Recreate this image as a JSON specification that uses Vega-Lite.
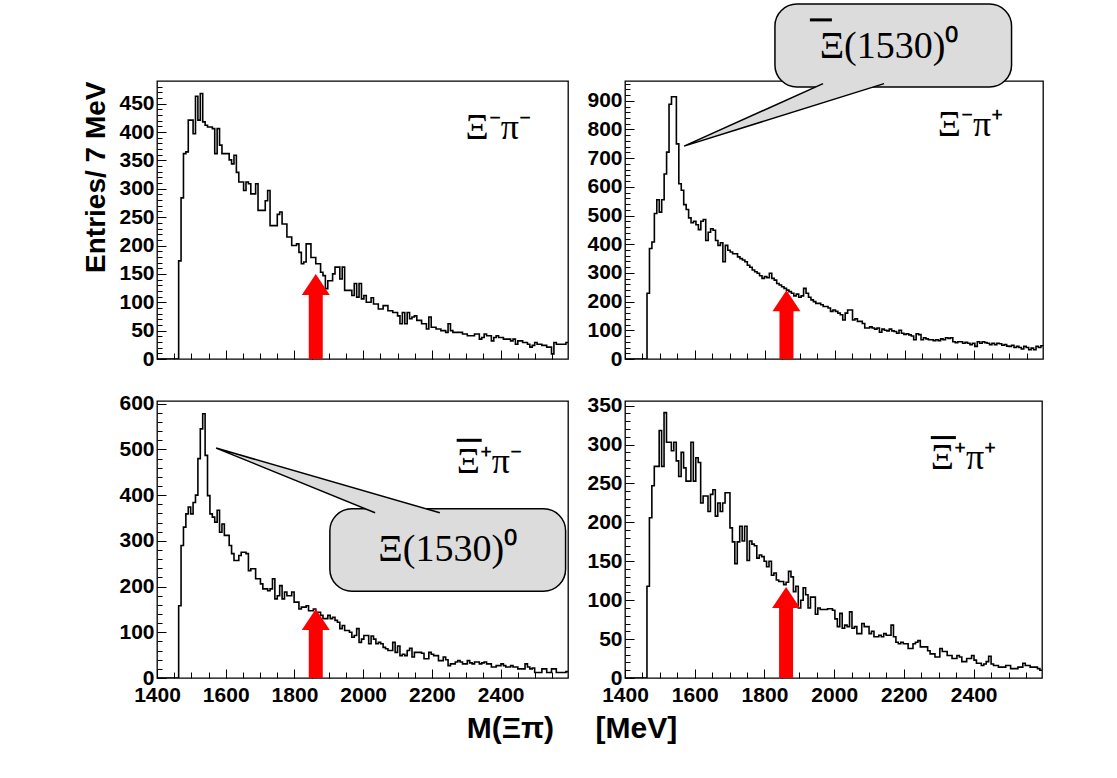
{
  "$schema": "https://vega.github.io/schema/vega-lite/v6.json",
  "background": "white",
  "padding": {"left": 82, "top": 2, "right": 10, "bottom": 10},
  "title": {
    "text": "M(Ξπ)\u00a0\u00a0\u00a0\u00a0\u00a0[MeV]",
    "orient": "bottom",
    "anchor": "middle",
    "font": "Liberation Sans",
    "fontSize": 30,
    "fontWeight": "bold",
    "color": "black",
    "offset": 8,
    "dx": 9
  },
  "datasets": {
    "hist": [
      {"m":1400,"mm":0,"mp":0,"pm":0,"pp":0},
      {"m":1463,"mm":173,"mp":229,"pm":158,"pp":118},
      {"m":1470,"mm":284,"mp":385,"pm":290,"pp":206},
      {"m":1477,"mm":362,"mp":408,"pm":330,"pp":247},
      {"m":1484,"mm":365,"mp":507,"pm":359,"pp":272},
      {"m":1491,"mm":421,"mp":555,"pm":374,"pp":272},
      {"m":1498,"mm":421,"mp":512,"pm":359,"pp":318},
      {"m":1505,"mm":397,"mp":555,"pm":384,"pp":272},
      {"m":1512,"mm":463,"mp":645,"pm":400,"pp":341},
      {"m":1519,"mm":421,"mp":721,"pm":480,"pp":303},
      {"m":1526,"mm":468,"mp":888,"pm":545,"pp":303},
      {"m":1533,"mm":418,"mp":914,"pm":578,"pp":292},
      {"m":1540,"mm":412,"mp":914,"pm":487,"pp":303},
      {"m":1547,"mm":409,"mp":750,"pm":399,"pp":279},
      {"m":1554,"mm":409,"mp":611,"pm":359,"pp":259},
      {"m":1561,"mm":406,"mp":588,"pm":352,"pp":290},
      {"m":1568,"mm":362,"mp":538,"pm":341,"pp":270},
      {"m":1575,"mm":406,"mp":521,"pm":367,"pp":253},
      {"m":1582,"mm":377,"mp":492,"pm":319,"pp":253},
      {"m":1589,"mm":362,"mp":475,"pm":337,"pp":303},
      {"m":1596,"mm":362,"mp":480,"pm":312,"pp":253},
      {"m":1603,"mm":362,"mp":468,"pm":312,"pp":283},
      {"m":1610,"mm":351,"mp":451,"pm":290,"pp":277},
      {"m":1617,"mm":344,"mp":480,"pm":272,"pp":225},
      {"m":1624,"mm":359,"mp":486,"pm":257,"pp":234},
      {"m":1631,"mm":329,"mp":413,"pm":257,"pp":234},
      {"m":1638,"mm":312,"mp":442,"pm":268,"pp":214},
      {"m":1645,"mm":312,"mp":454,"pm":275,"pp":236},
      {"m":1652,"mm":297,"mp":449,"pm":275,"pp":242},
      {"m":1659,"mm":312,"mp":413,"pm":272,"pp":208},
      {"m":1666,"mm":309,"mp":396,"pm":235,"pp":225},
      {"m":1673,"mm":291,"mp":405,"pm":239,"pp":214},
      {"m":1680,"mm":291,"mp":339,"pm":239,"pp":225},
      {"m":1687,"mm":309,"mp":396,"pm":217,"pp":238},
      {"m":1694,"mm":262,"mp":379,"pm":217,"pp":238},
      {"m":1701,"mm":262,"mp":373,"pm":206,"pp":193},
      {"m":1708,"mm":262,"mp":367,"pm":195,"pp":175},
      {"m":1715,"mm":279,"mp":367,"pm":195,"pp":147},
      {"m":1722,"mm":297,"mp":356,"pm":191,"pp":175},
      {"m":1729,"mm":235,"mp":350,"pm":195,"pp":195},
      {"m":1736,"mm":235,"mp":345,"pm":217,"pp":176},
      {"m":1743,"mm":235,"mp":339,"pm":173,"pp":195},
      {"m":1750,"mm":255,"mp":327,"pm":180,"pp":151},
      {"m":1757,"mm":259,"mp":320,"pm":202,"pp":176},
      {"m":1764,"mm":238,"mp":310,"pm":173,"pp":172},
      {"m":1771,"mm":238,"mp":304,"pm":188,"pp":170},
      {"m":1778,"mm":215,"mp":299,"pm":180,"pp":154},
      {"m":1785,"mm":215,"mp":290,"pm":180,"pp":158},
      {"m":1792,"mm":200,"mp":281,"pm":188,"pp":156},
      {"m":1799,"mm":200,"mp":287,"pm":166,"pp":150},
      {"m":1806,"mm":203,"mp":283,"pm":166,"pp":143},
      {"m":1813,"mm":188,"mp":299,"pm":151,"pp":150},
      {"m":1820,"mm":168,"mp":281,"pm":155,"pp":132},
      {"m":1827,"mm":171,"mp":275,"pm":155,"pp":135},
      {"m":1834,"mm":203,"mp":263,"pm":158,"pp":126},
      {"m":1841,"mm":203,"mp":258,"pm":147,"pp":124},
      {"m":1848,"mm":179,"mp":252,"pm":147,"pp":124},
      {"m":1855,"mm":179,"mp":246,"pm":151,"pp":120},
      {"m":1862,"mm":168,"mp":240,"pm":144,"pp":123},
      {"m":1869,"mm":168,"mp":235,"pm":144,"pp":137},
      {"m":1876,"mm":153,"mp":229,"pm":137,"pp":130},
      {"m":1883,"mm":147,"mp":220,"pm":130,"pp":111},
      {"m":1890,"mm":124,"mp":226,"pm":130,"pp":118},
      {"m":1897,"mm":138,"mp":215,"pm":137,"pp":90},
      {"m":1904,"mm":138,"mp":220,"pm":130,"pp":100},
      {"m":1911,"mm":150,"mp":246,"pm":133,"pp":116},
      {"m":1918,"mm":162,"mp":229,"pm":126,"pp":107},
      {"m":1925,"mm":162,"mp":215,"pm":122,"pp":90},
      {"m":1932,"mm":141,"mp":206,"pm":108,"pp":104},
      {"m":1939,"mm":162,"mp":200,"pm":115,"pp":104},
      {"m":1946,"mm":121,"mp":194,"pm":104,"pp":82},
      {"m":1953,"mm":121,"mp":194,"pm":104,"pp":90},
      {"m":1960,"mm":121,"mp":189,"pm":100,"pp":88},
      {"m":1967,"mm":112,"mp":183,"pm":89,"pp":88},
      {"m":1974,"mm":133,"mp":183,"pm":93,"pp":88},
      {"m":1981,"mm":109,"mp":178,"pm":108,"pp":89},
      {"m":1988,"mm":133,"mp":166,"pm":78,"pp":89},
      {"m":1995,"mm":106,"mp":171,"pm":85,"pp":87},
      {"m":2002,"mm":112,"mp":166,"pm":93,"pp":76},
      {"m":2009,"mm":100,"mp":160,"pm":93,"pp":66},
      {"m":2016,"mm":100,"mp":154,"pm":75,"pp":83},
      {"m":2023,"mm":108,"mp":136,"pm":92,"pp":64},
      {"m":2030,"mm":97,"mp":160,"pm":85,"pp":68},
      {"m":2037,"mm":97,"mp":171,"pm":75,"pp":66},
      {"m":2044,"mm":88,"mp":171,"pm":78,"pp":85},
      {"m":2051,"mm":88,"mp":136,"pm":75,"pp":64},
      {"m":2058,"mm":94,"mp":140,"pm":67,"pp":66},
      {"m":2065,"mm":94,"mp":131,"pm":64,"pp":57},
      {"m":2072,"mm":85,"mp":131,"pm":60,"pp":57},
      {"m":2079,"mm":85,"mp":124,"pm":60,"pp":70},
      {"m":2086,"mm":82,"mp":108,"pm":78,"pp":66},
      {"m":2093,"mm":82,"mp":108,"pm":56,"pp":66},
      {"m":2100,"mm":76,"mp":112,"pm":70,"pp":57},
      {"m":2107,"mm":62,"mp":108,"pm":49,"pp":60},
      {"m":2114,"mm":82,"mp":104,"pm":52,"pp":53},
      {"m":2121,"mm":62,"mp":108,"pm":49,"pp":53},
      {"m":2128,"mm":82,"mp":93,"pm":60,"pp":55},
      {"m":2135,"mm":71,"mp":104,"pm":65,"pp":53},
      {"m":2142,"mm":74,"mp":100,"pm":46,"pp":57},
      {"m":2149,"mm":76,"mp":98,"pm":56,"pp":55},
      {"m":2156,"mm":68,"mp":104,"pm":56,"pp":55},
      {"m":2163,"mm":68,"mp":98,"pm":56,"pp":68},
      {"m":2170,"mm":62,"mp":96,"pm":54,"pp":53},
      {"m":2177,"mm":62,"mp":90,"pm":42,"pp":46},
      {"m":2184,"mm":53,"mp":100,"pm":42,"pp":44},
      {"m":2191,"mm":74,"mp":90,"pm":56,"pp":46},
      {"m":2198,"mm":56,"mp":86,"pm":52,"pp":44},
      {"m":2205,"mm":56,"mp":88,"pm":49,"pp":44},
      {"m":2212,"mm":53,"mp":84,"pm":49,"pp":38},
      {"m":2219,"mm":53,"mp":80,"pm":38,"pp":38},
      {"m":2226,"mm":50,"mp":67,"pm":38,"pp":44},
      {"m":2233,"mm":50,"mp":88,"pm":46,"pp":46},
      {"m":2240,"mm":47,"mp":85,"pm":40,"pp":48},
      {"m":2247,"mm":62,"mp":67,"pm":27,"pp":40},
      {"m":2254,"mm":50,"mp":74,"pm":31,"pp":40},
      {"m":2261,"mm":47,"mp":70,"pm":31,"pp":40},
      {"m":2268,"mm":47,"mp":67,"pm":35,"pp":35},
      {"m":2275,"mm":47,"mp":67,"pm":38,"pp":31},
      {"m":2282,"mm":47,"mp":64,"pm":35,"pp":31},
      {"m":2289,"mm":44,"mp":67,"pm":31,"pp":27},
      {"m":2296,"mm":44,"mp":64,"pm":31,"pp":27},
      {"m":2303,"mm":41,"mp":70,"pm":38,"pp":38},
      {"m":2310,"mm":41,"mp":67,"pm":33,"pp":34},
      {"m":2317,"mm":41,"mp":74,"pm":31,"pp":34},
      {"m":2324,"mm":44,"mp":72,"pm":35,"pp":29},
      {"m":2331,"mm":44,"mp":74,"pm":35,"pp":29},
      {"m":2338,"mm":35,"mp":60,"pm":31,"pp":25},
      {"m":2345,"mm":38,"mp":57,"pm":33,"pp":25},
      {"m":2352,"mm":44,"mp":60,"pm":35,"pp":29},
      {"m":2359,"mm":41,"mp":60,"pm":31,"pp":27},
      {"m":2366,"mm":41,"mp":55,"pm":31,"pp":21},
      {"m":2373,"mm":32,"mp":58,"pm":24,"pp":21},
      {"m":2380,"mm":38,"mp":55,"pm":24,"pp":25},
      {"m":2387,"mm":41,"mp":50,"pm":27,"pp":25},
      {"m":2394,"mm":38,"mp":55,"pm":27,"pp":29},
      {"m":2401,"mm":38,"mp":44,"pm":31,"pp":23},
      {"m":2408,"mm":35,"mp":60,"pm":27,"pp":19},
      {"m":2415,"mm":35,"mp":55,"pm":24,"pp":19},
      {"m":2422,"mm":35,"mp":60,"pm":24,"pp":16},
      {"m":2429,"mm":32,"mp":57,"pm":27,"pp":18},
      {"m":2436,"mm":35,"mp":55,"pm":24,"pp":21},
      {"m":2443,"mm":26,"mp":50,"pm":24,"pp":28},
      {"m":2450,"mm":32,"mp":55,"pm":20,"pp":18},
      {"m":2457,"mm":32,"mp":50,"pm":20,"pp":16},
      {"m":2464,"mm":29,"mp":55,"pm":20,"pp":16},
      {"m":2471,"mm":29,"mp":53,"pm":31,"pp":14},
      {"m":2478,"mm":26,"mp":48,"pm":24,"pp":14},
      {"m":2485,"mm":21,"mp":50,"pm":20,"pp":14},
      {"m":2492,"mm":24,"mp":45,"pm":22,"pp":16},
      {"m":2499,"mm":29,"mp":44,"pm":12,"pp":16},
      {"m":2506,"mm":26,"mp":48,"pm":12,"pp":12},
      {"m":2513,"mm":26,"mp":40,"pm":12,"pp":12},
      {"m":2520,"mm":24,"mp":44,"pm":20,"pp":12},
      {"m":2527,"mm":24,"mp":40,"pm":20,"pp":14},
      {"m":2534,"mm":21,"mp":35,"pm":12,"pp":14},
      {"m":2541,"mm":21,"mp":44,"pm":12,"pp":19},
      {"m":2548,"mm":9,"mp":40,"pm":20,"pp":16},
      {"m":2555,"mm":29,"mp":32,"pm":20,"pp":16},
      {"m":2562,"mm":26,"mp":38,"pm":12,"pp":14},
      {"m":2569,"mm":26,"mp":32,"pm":12,"pp":14},
      {"m":2576,"mm":26,"mp":44,"pm":12,"pp":14},
      {"m":2583,"mm":26,"mp":40,"pm":12,"pp":12},
      {"m":2590,"mm":29,"mp":46,"pm":14,"pp":10},
      {"m":2597,"mm":29,"mp":46,"pm":14,"pp":10}
    ]
  },
  "columns": 2,
  "spacing": {"row": 42, "column": 57},
  "bounds": "flush",
  "concat": [
    {
      "width": 411,
      "height": 278,
      "layer": [
        {
          "data": {"name": "hist"},
          "mark": {"type": "line", "interpolate": "step-after", "color": "black", "strokeWidth": 1.6, "clip": true},
          "encoding": {
            "x": {"field": "m", "type": "quantitative", "scale": {"domain": [1400, 2596], "nice": false, "zero": false}, "axis": null},
            "y": {"field": "mm", "type": "quantitative", "scale": {"domain": [0, 490], "nice": false},
              "axis": {"orient": "left", "values": [0,50,100,150,200,250,300,350,400,450], "ticks": false, "domain": false, "grid": false, "labelPadding": 3,
                "title": "Entries/ 7 MeV", "titleFont": "Liberation Sans", "titleFontWeight": "bold", "titleFontSize": 28, "titleColor": "black", "titleAnchor": "end", "titlePadding": 8}}
          }
        },
        {
          "data": {"values": [{}]},
          "mark": {"type": "rule", "color": "#ff0000", "strokeWidth": 14, "strokeCap": "butt"},
          "encoding": {
            "x": {"datum": 1862, "type": "quantitative", "axis": {"orient": "bottom", "values": [1400,1600,1800,2000,2200,2400], "labels": false, "domain": false, "grid": false, "tickSize": -9, "title": null}},
            "y": {"datum": 0, "type": "quantitative", "axis": {"orient": "left", "values": [0,50,100,150,200,250,300,350,400,450], "labels": false, "domain": false, "grid": false, "tickSize": -9, "title": null}},
            "y2": {"datum": 124}
          }
        },
        {
          "data": {"values": [{}]},
          "mark": {"type": "point", "shape": "M0,0L1,1.5L-1,1.5Z", "size": 784, "filled": true, "color": "#ff0000", "opacity": 1},
          "encoding": {
            "x": {"datum": 1862, "type": "quantitative", "axis": {"orient": "bottom", "values": [1400,1450,1500,1550,1600,1650,1700,1750,1800,1850,1900,1950,2000,2050,2100,2150,2200,2250,2300,2350,2400,2450,2500,2550], "labels": false, "domain": false, "grid": false, "tickSize": -6, "title": null}},
            "y": {"datum": 150, "type": "quantitative", "axis": {"orient": "left", "values": [0,10,20,30,40,50,60,70,80,90,100,110,120,130,140,150,160,170,180,190,200,210,220,230,240,250,260,270,280,290,300,310,320,330,340,350,360,370,380,390,400,410,420,430,440,450,460,470,480], "labels": false, "domain": false, "grid": false, "tickSize": -5, "title": null}}
          }
        },
        {
          "data": {"values": [{}]},
          "mark": {"type": "text", "font": "Liberation Serif", "fontSize": 36, "align": "left", "baseline": "alphabetic", "color": "black"},
          "encoding": {
            "x": {"datum": 2298, "type": "quantitative", "axis": null},
            "y": {"datum": 388, "type": "quantitative", "axis": null},
            "text": {"value": "Ξ⁻π⁻"}
          }
        }
      ],
      "resolve": {"axis": {"x": "independent", "y": "independent"}}
    },
    {
      "width": 418,
      "height": 278,
      "layer": [
        {
          "data": {"name": "hist"},
          "mark": {"type": "line", "interpolate": "step-after", "color": "black", "strokeWidth": 1.6, "clip": true},
          "encoding": {
            "x": {"field": "m", "type": "quantitative", "scale": {"domain": [1400, 2596], "nice": false, "zero": false}, "axis": null},
            "y": {"field": "mp", "type": "quantitative", "scale": {"domain": [0, 969], "nice": false},
              "axis": {"orient": "left", "values": [0,100,200,300,400,500,600,700,800,900], "ticks": false, "domain": false, "grid": false, "labelPadding": 3, "title": null}}
          }
        },
        {
          "data": {"values": [{}]},
          "mark": {"type": "rule", "color": "#ff0000", "strokeWidth": 14, "strokeCap": "butt"},
          "encoding": {
            "x": {"datum": 1862, "type": "quantitative", "axis": {"orient": "bottom", "values": [1400,1600,1800,2000,2200,2400], "labels": false, "domain": false, "grid": false, "tickSize": -9, "title": null}},
            "y": {"datum": 0, "type": "quantitative", "axis": {"orient": "left", "values": [0,100,200,300,400,500,600,700,800,900], "labels": false, "domain": false, "grid": false, "tickSize": -9, "title": null}},
            "y2": {"datum": 188}
          }
        },
        {
          "data": {"values": [{}]},
          "mark": {"type": "point", "shape": "M0,0L1,1.5L-1,1.5Z", "size": 784, "filled": true, "color": "#ff0000", "opacity": 1},
          "encoding": {
            "x": {"datum": 1862, "type": "quantitative", "axis": {"orient": "bottom", "values": [1400,1450,1500,1550,1600,1650,1700,1750,1800,1850,1900,1950,2000,2050,2100,2150,2200,2250,2300,2350,2400,2450,2500,2550], "labels": false, "domain": false, "grid": false, "tickSize": -6, "title": null}},
            "y": {"datum": 240, "type": "quantitative", "axis": {"orient": "left", "values": [0,20,40,60,80,100,120,140,160,180,200,220,240,260,280,300,320,340,360,380,400,420,440,460,480,500,520,540,560,580,600,620,640,660,680,700,720,740,760,780,800,820,840,860,880,900,920,940,960], "labels": false, "domain": false, "grid": false, "tickSize": -5, "title": null}}
          }
        },
        {
          "data": {"values": [{}]},
          "mark": {"type": "text", "font": "Liberation Serif", "fontSize": 36, "align": "left", "baseline": "alphabetic", "color": "black"},
          "encoding": {
            "x": {"datum": 2295, "type": "quantitative", "axis": null},
            "y": {"datum": 778, "type": "quantitative", "axis": null},
            "text": {"value": "Ξ⁻π⁺"}
          }
        },
        {
          "data": {"values": [{}]},
          "mark": {"type": "rect", "fill": "#dcdcdc", "stroke": "black", "strokeWidth": 1.5, "cornerRadius": 22},
          "encoding": {
            "x": {"datum": 1829, "type": "quantitative", "axis": null},
            "x2": {"datum": 2506},
            "y": {"datum": 948, "type": "quantitative", "axis": null},
            "y2": {"datum": 1237}
          }
        },
        {
          "data": {"values": [{}]},
          "mark": {"type": "point", "shape": "M13.9,-6.25L0,0L20,-6.25", "size": 400, "filled": true, "fill": "#dcdcdc", "stroke": "black", "strokeWidth": 1.5, "opacity": 1, "strokeJoin": "miter"},
          "encoding": {
            "x": {"datum": 1569, "type": "quantitative", "axis": null},
            "y": {"datum": 742, "type": "quantitative", "axis": null}
          }
        },
        {
          "data": {"values": [{}]},
          "mark": {"type": "text", "font": "Liberation Serif", "fontSize": 38, "align": "left", "baseline": "middle", "color": "black"},
          "encoding": {
            "x": {"datum": 1957, "type": "quantitative", "axis": null},
            "y": {"datum": 1088, "type": "quantitative", "axis": null},
            "text": {"value": "Ξ(1530)⁰"}
          }
        },
        {
          "data": {"values": [{}]},
          "mark": {"type": "rule", "color": "black", "strokeWidth": 3, "strokeCap": "butt"},
          "encoding": {
            "x": {"datum": 1929, "type": "quantitative", "axis": null},
            "x2": {"datum": 1992},
            "y": {"datum": 1182, "type": "quantitative", "axis": null}
          }
        }
      ],
      "resolve": {"axis": {"x": "independent", "y": "independent"}}
    },
    {
      "width": 411,
      "height": 277,
      "layer": [
        {
          "data": {"name": "hist"},
          "mark": {"type": "line", "interpolate": "step-after", "color": "black", "strokeWidth": 1.6, "clip": true},
          "encoding": {
            "x": {"field": "m", "type": "quantitative", "scale": {"domain": [1400, 2596], "nice": false, "zero": false},
              "axis": {"orient": "bottom", "values": [1400,1600,1800,2000,2200,2400], "format": "d", "ticks": false, "domain": false, "grid": false, "labelPadding": 6, "title": null}},
            "y": {"field": "pm", "type": "quantitative", "scale": {"domain": [0, 606], "nice": false},
              "axis": {"orient": "left", "values": [0,100,200,300,400,500,600], "ticks": false, "domain": false, "grid": false, "labelPadding": 3, "title": null}}
          }
        },
        {
          "data": {"values": [{}]},
          "mark": {"type": "rule", "color": "#ff0000", "strokeWidth": 14, "strokeCap": "butt"},
          "encoding": {
            "x": {"datum": 1862, "type": "quantitative", "axis": {"orient": "bottom", "values": [1400,1600,1800,2000,2200,2400], "labels": false, "domain": false, "grid": false, "tickSize": -9, "title": null}},
            "y": {"datum": 0, "type": "quantitative", "axis": {"orient": "left", "values": [0,100,200,300,400,500,600], "labels": false, "domain": false, "grid": false, "tickSize": -9, "title": null}},
            "y2": {"datum": 118}
          }
        },
        {
          "data": {"values": [{}]},
          "mark": {"type": "point", "shape": "M0,0L1,1.5L-1,1.5Z", "size": 784, "filled": true, "color": "#ff0000", "opacity": 1},
          "encoding": {
            "x": {"datum": 1862, "type": "quantitative", "axis": {"orient": "bottom", "values": [1400,1450,1500,1550,1600,1650,1700,1750,1800,1850,1900,1950,2000,2050,2100,2150,2200,2250,2300,2350,2400,2450,2500,2550], "labels": false, "domain": false, "grid": false, "tickSize": -6, "title": null}},
            "y": {"datum": 151, "type": "quantitative", "axis": {"orient": "left", "values": [0,20,40,60,80,100,120,140,160,180,200,220,240,260,280,300,320,340,360,380,400,420,440,460,480,500,520,540,560,580,600], "labels": false, "domain": false, "grid": false, "tickSize": -5, "title": null}}
          }
        },
        {
          "data": {"values": [{}]},
          "mark": {"type": "text", "font": "Liberation Serif", "fontSize": 36, "align": "left", "baseline": "alphabetic", "color": "black"},
          "encoding": {
            "x": {"datum": 2272, "type": "quantitative", "axis": null},
            "y": {"datum": 449, "type": "quantitative", "axis": null},
            "text": {"value": "Ξ⁺π⁻"}
          }
        },
        {
          "data": {"values": [{}]},
          "mark": {"type": "rule", "color": "black", "strokeWidth": 3, "strokeCap": "butt"},
          "encoding": {
            "x": {"datum": 2272, "type": "quantitative", "axis": null},
            "x2": {"datum": 2345},
            "y": {"datum": 520, "type": "quantitative", "axis": null}
          }
        },
        {
          "data": {"values": [{}]},
          "mark": {"type": "rect", "fill": "#dcdcdc", "stroke": "black", "strokeWidth": 1.5, "cornerRadius": 22},
          "encoding": {
            "x": {"datum": 1903, "type": "quantitative", "axis": null},
            "x2": {"datum": 2589},
            "y": {"datum": 190, "type": "quantitative", "axis": null},
            "y2": {"datum": 370}
          }
        },
        {
          "data": {"values": [{}]},
          "mark": {"type": "point", "shape": "M15.9,6.47L0,0L22.37,6.47", "size": 400, "filled": true, "fill": "#dcdcdc", "stroke": "black", "strokeWidth": 1.5, "opacity": 1, "strokeJoin": "miter"},
          "encoding": {
            "x": {"datum": 1572, "type": "quantitative", "axis": null},
            "y": {"datum": 503, "type": "quantitative", "axis": null}
          }
        },
        {
          "data": {"values": [{}]},
          "mark": {"type": "text", "font": "Liberation Serif", "fontSize": 38, "align": "center", "baseline": "middle", "color": "black"},
          "encoding": {
            "x": {"datum": 2246, "type": "quantitative", "axis": null},
            "y": {"datum": 280, "type": "quantitative", "axis": null},
            "text": {"value": "Ξ(1530)⁰"}
          }
        }
      ],
      "resolve": {"axis": {"x": "independent", "y": "independent"}}
    },
    {
      "width": 417,
      "height": 277,
      "layer": [
        {
          "data": {"name": "hist"},
          "mark": {"type": "line", "interpolate": "step-after", "color": "black", "strokeWidth": 1.6, "clip": true},
          "encoding": {
            "x": {"field": "m", "type": "quantitative", "scale": {"domain": [1400, 2596], "nice": false, "zero": false},
              "axis": {"orient": "bottom", "values": [1400,1600,1800,2000,2200,2400], "format": "d", "ticks": false, "domain": false, "grid": false, "labelPadding": 6, "title": null}},
            "y": {"field": "pp", "type": "quantitative", "scale": {"domain": [0, 356], "nice": false},
              "axis": {"orient": "left", "values": [0,50,100,150,200,250,300,350], "ticks": false, "domain": false, "grid": false, "labelPadding": 3, "title": null}}
          }
        },
        {
          "data": {"values": [{}]},
          "mark": {"type": "rule", "color": "#ff0000", "strokeWidth": 14, "strokeCap": "butt"},
          "encoding": {
            "x": {"datum": 1862, "type": "quantitative", "axis": {"orient": "bottom", "values": [1400,1600,1800,2000,2200,2400], "labels": false, "domain": false, "grid": false, "tickSize": -9, "title": null}},
            "y": {"datum": 0, "type": "quantitative", "axis": {"orient": "left", "values": [0,50,100,150,200,250,300,350], "labels": false, "domain": false, "grid": false, "tickSize": -9, "title": null}},
            "y2": {"datum": 98}
          }
        },
        {
          "data": {"values": [{}]},
          "mark": {"type": "point", "shape": "M0,0L1,1.5L-1,1.5Z", "size": 784, "filled": true, "color": "#ff0000", "opacity": 1},
          "encoding": {
            "x": {"datum": 1862, "type": "quantitative", "axis": {"orient": "bottom", "values": [1400,1450,1500,1550,1600,1650,1700,1750,1800,1850,1900,1950,2000,2050,2100,2150,2200,2250,2300,2350,2400,2450,2500,2550], "labels": false, "domain": false, "grid": false, "tickSize": -6, "title": null}},
            "y": {"datum": 117, "type": "quantitative", "axis": {"orient": "left", "values": [0,10,20,30,40,50,60,70,80,90,100,110,120,130,140,150,160,170,180,190,200,210,220,230,240,250,260,270,280,290,300,310,320,330,340,350], "labels": false, "domain": false, "grid": false, "tickSize": -5, "title": null}}
          }
        },
        {
          "data": {"values": [{}]},
          "mark": {"type": "text", "font": "Liberation Serif", "fontSize": 36, "align": "left", "baseline": "alphabetic", "color": "black"},
          "encoding": {
            "x": {"datum": 2277, "type": "quantitative", "axis": null},
            "y": {"datum": 268, "type": "quantitative", "axis": null},
            "text": {"value": "Ξ⁺π⁺"}
          }
        },
        {
          "data": {"values": [{}]},
          "mark": {"type": "rule", "color": "black", "strokeWidth": 3, "strokeCap": "butt"},
          "encoding": {
            "x": {"datum": 2277, "type": "quantitative", "axis": null},
            "x2": {"datum": 2349},
            "y": {"datum": 309, "type": "quantitative", "axis": null}
          }
        }
      ],
      "resolve": {"axis": {"x": "independent", "y": "independent"}}
    }
  ],
  "config": {
    "view": {"stroke": "black", "strokeWidth": 1.3},
    "axis": {
      "labelFont": "Liberation Sans",
      "labelFontWeight": "bold",
      "labelFontSize": 21,
      "labelColor": "black",
      "tickColor": "black",
      "tickWidth": 1,
      "labelFlush": false,
      "labelOverlap": false,
      "zindex": 1
    }
  }
}
